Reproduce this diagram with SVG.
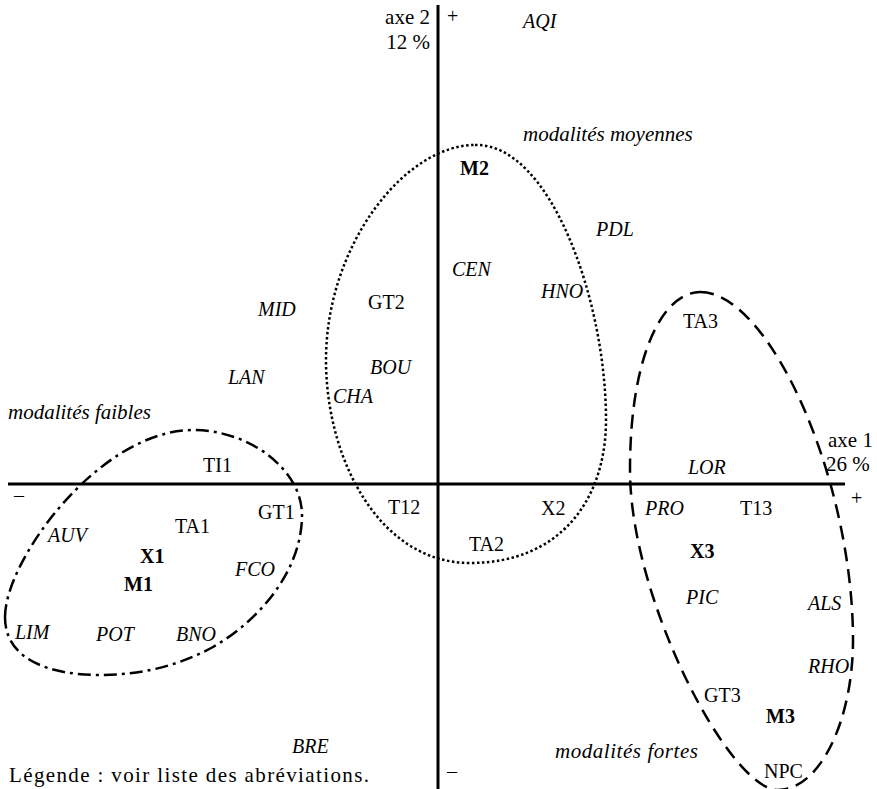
<svg xmlns="http://www.w3.org/2000/svg" width="877" height="789" viewBox="0 0 877 789">
<style>
text{font-family:"Liberation Serif","Times New Roman",serif;font-size:20px;fill:#000}
.i{font-style:italic}
.b{font-weight:bold}
.l{font-size:21px}
.ax{stroke:#000;stroke-width:3;fill:none}
.c{fill:none;stroke:#000;stroke-width:2.5}
.dot{stroke-dasharray:2.5 2.5}
.dash{stroke-dasharray:14 8}
.dd{stroke-dasharray:13 5 3 5}
</style>
<rect width="877" height="789" fill="#fff"/>
<g id="axes">
<line class="ax" x1="8" y1="484" x2="845" y2="484"/>
<line class="ax" x1="438" y1="5" x2="438" y2="789"/>
<text x="430" y="24" text-anchor="end" class="l">axe 2</text>
<text x="430" y="49" text-anchor="end" class="l">12 %</text>
<text x="447" y="23">+</text>
<text x="447" y="778">–</text>
<text x="828" y="447" class="l">axe 1</text>
<text x="826" y="471" class="l">26 %</text>
<text x="851" y="505">+</text>
<text x="14" y="502">–</text>
</g>
<g id="clusters">
<path id="cluster-faibles" class="c dd" d="M5,617 C5,560 100,430 193,430 C250,430 302,470 302,515 C302,570 260,620 213,647 C175,668 135,675 100,675 C50,675 5,660 5,617 Z"/>
<path id="cluster-moyennes" class="c dot" d="M475,145 C550,143 606,300 606,420 C606,500 560,563 470,563 C380,563 326,460 326,360 C326,245 405,145 475,145 Z"/>
<path id="cluster-fortes" class="c dash" d="M700,292 C770,292 853,480 853,640 C853,720 820,790 778,790 C730,790 630,600 630,470 C630,350 665,292 700,292 Z"/>
</g>
<g id="labels">
<g id="AQI"><text class="i" x="523" y="28">AQI</text></g>
<g id="mod-moy"><text class="i l" x="523" y="141">modalités moyennes</text></g>
<g id="M2"><text class="b" x="460" y="175">M2</text></g>
<g id="PDL"><text class="i" x="596" y="236">PDL</text></g>
<g id="CEN"><text class="i" x="452" y="276">CEN</text></g>
<g id="HNO"><text class="i" x="541" y="298">HNO</text></g>
<g id="GT2"><text x="368" y="309">GT2</text></g>
<g id="MID"><text class="i" x="258" y="316">MID</text></g>
<g id="TA3"><text x="683" y="328">TA3</text></g>
<g id="LAN"><text class="i" x="228" y="384">LAN</text></g>
<g id="BOU"><text class="i" x="370" y="374">BOU</text></g>
<g id="CHA"><text class="i" x="333" y="403">CHA</text></g>
<g id="mod-faibles"><text class="i l" x="8" y="419">modalités faibles</text></g>
<g id="TI1"><text x="203" y="472">TI1</text></g>
<g id="LOR"><text class="i" x="688" y="474">LOR</text></g>
<g id="GT1"><text x="258" y="519">GT1</text></g>
<g id="T12"><text x="388" y="514">T12</text></g>
<g id="X2"><text x="541" y="515">X2</text></g>
<g id="PRO"><text class="i" x="645" y="515">PRO</text></g>
<g id="T13"><text x="740" y="515">T13</text></g>
<g id="TA1"><text x="175" y="533">TA1</text></g>
<g id="AUV"><text class="i" x="48" y="542">AUV</text></g>
<g id="TA2"><text x="469" y="551">TA2</text></g>
<g id="X1"><text class="b" x="140" y="563">X1</text></g>
<g id="FCO"><text class="i" x="235" y="576">FCO</text></g>
<g id="X3"><text class="b" x="690" y="558">X3</text></g>
<g id="M1"><text class="b" x="124" y="591">M1</text></g>
<g id="PIC"><text class="i" x="686" y="604">PIC</text></g>
<g id="ALS"><text class="i" x="808" y="610">ALS</text></g>
<g id="LIM"><text class="i" x="15" y="639">LIM</text></g>
<g id="POT"><text class="i" x="96" y="641">POT</text></g>
<g id="BNO"><text class="i" x="176" y="641">BNO</text></g>
<g id="RHO"><text class="i" x="808" y="673">RHO</text></g>
<g id="GT3"><text x="704" y="702">GT3</text></g>
<g id="M3"><text class="b" x="766" y="723">M3</text></g>
<g id="BRE"><text class="i" x="292" y="753">BRE</text></g>
<g id="mod-fortes"><text class="i l" x="555" y="758" textLength="143">modalités fortes</text></g>
<g id="NPC"><text x="764" y="778">NPC</text></g>
<g id="legende"><text class="l" x="9" y="782" textLength="360">Légende : voir liste des abréviations.</text></g>
</g>
</svg>
